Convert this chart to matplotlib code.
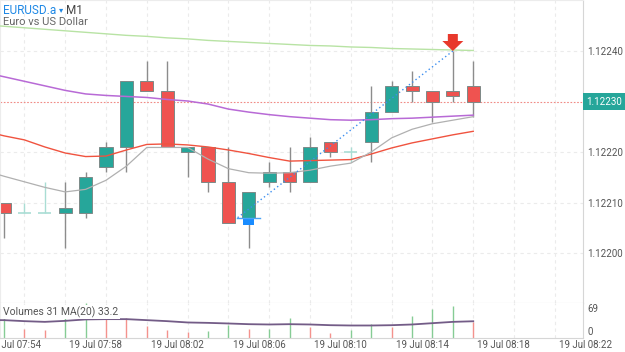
#!/usr/bin/env python3

import matplotlib
matplotlib.use("Agg")
import matplotlib.pyplot as plt
import matplotlib.transforms as mtransforms
from matplotlib.patches import Polygon, Rectangle

# one-minute candles, index 0 = 19 Jul 07:54
OPENS  = [1.12210, 1.12208, 1.12208, 1.12208, 1.12208, 1.12217, 1.12221, 1.12234,
          1.12232, 1.12220, 1.12221, 1.12214, 1.12207, 1.12214, 1.12216, 1.12214,
          1.12222, 1.12220, 1.12222, 1.12228, 1.12233, 1.12232, 1.12232, 1.12233]
HIGHS  = [1.12210, 1.12210, 1.12214, 1.12214, 1.12216, 1.12222, 1.12234, 1.12238,
          1.12238, 1.12221, 1.12221, 1.12221, 1.12212, 1.12218, 1.12221, 1.12223,
          1.12222, 1.12221, 1.12233, 1.12234, 1.12236, 1.12232, 1.12240, 1.12238]
LOWS   = [1.12203, 1.12208, 1.12208, 1.12201, 1.12207, 1.12216, 1.12216, 1.12232,
          1.12221, 1.12215, 1.12212, 1.12206, 1.12201, 1.12213, 1.12212, 1.12214,
          1.12219, 1.12218, 1.12218, 1.12228, 1.12230, 1.12226, 1.12230, 1.12227]
CLOSES = [1.12208, 1.12208, 1.12208, 1.12209, 1.12215, 1.12221, 1.12234, 1.12232,
          1.12221, 1.12221, 1.12214, 1.12206, 1.12212, 1.12216, 1.12214, 1.12221,
          1.12220, 1.12220, 1.12228, 1.12233, 1.12232, 1.12230, 1.12231, 1.12230]

VOLUMES     = [53, 17, 15, 49, 69, 58, 39, 23, 15, 11, 13, 25,
               17, 18, 39, 21, 9, 15, 27, 22, 44, 57, 63, 31]
PREV_VOLUME = 40

# moving averages start one bar before the visible window (index -1)
MA_SLOW   = [1.122452, 1.122449, 1.122446, 1.122443, 1.122440, 1.122437, 1.122434,
             1.122431, 1.122429, 1.122426, 1.122424, 1.122421, 1.122419, 1.122417,
             1.122415, 1.122413, 1.122411, 1.122410, 1.122408, 1.122407, 1.122405,
             1.122404, 1.122403, 1.122402, 1.122401]
MA_MID    = [1.122358, 1.122349, 1.122340, 1.122331, 1.122322, 1.122315, 1.122312,
             1.122310, 1.122308, 1.122304, 1.122301, 1.122295, 1.122285, 1.122279,
             1.122274, 1.122270, 1.122267, 1.122264, 1.122263, 1.122264, 1.122266,
             1.122267, 1.122269, 1.122271, 1.122273]
MA_FAST   = [1.122242, 1.122232, 1.122224, 1.122210, 1.122198, 1.122191, 1.122192,
             1.122204, 1.122215, 1.122216, 1.122214, 1.122210, 1.122204, 1.122197,
             1.122189, 1.122182, 1.122183, 1.122184, 1.122185, 1.122196, 1.122208,
             1.122218, 1.122226, 1.122234, 1.122241]
MA_SHORT  = [1.122164, 1.122152, 1.122141, 1.122130, 1.122121, 1.122126, 1.122144,
             1.122172, 1.122209, 1.122209, 1.122209, 1.122186, 1.122167, 1.122159,
             1.122158, 1.122159, 1.122164, 1.122172, 1.122178, 1.122200, 1.122228,
             1.122245, 1.122256, 1.122263, 1.122270]
VOLUME_MA = [35.6, 35.4, 33.4, 32.0, 34.0, 36.8, 37.4, 37.4, 35.4, 33.4, 30.8, 30.0,
             28.8, 27.4, 26.8, 27.4, 26.8, 25.4, 24.8, 24.8, 25.4, 26.8, 29.4, 32.0, 33.2]

# trade: buy on bar 12, closed on bar 22
BUY_BAR,  BUY_PRICE  = 12, 1.12207
SELL_BAR, SELL_PRICE = 22, 1.12240

LAST_PRICE   = 1.12230
PRICE_TICKS  = [1.12200, 1.12210, 1.12220, 1.12240]
TIME_LABELS  = ["19 Jul 07:54", "19 Jul 07:58", "19 Jul 08:02", "19 Jul 08:06",
                "19 Jul 08:10", "19 Jul 08:14", "19 Jul 08:18", "19 Jul 08:22"]

TEAL  = "#26a69a"
RED   = "#ef5350"
DOJI  = "#a9ddd4"
WICK  = "#8c8c8c"
GRID  = "#ebebeb"
SPINE = "#d6d6d6"
TEXT  = "#555555"
FONT  = ["Roboto", "DejaVu Sans"]

OUTPUT_FILE = "out.png"


def px_transform(ax, x, y):
    """Pixel offsets (y up) around a data point."""
    return (mtransforms.Affine2D().scale(0.01) + ax.figure.dpi_scale_trans
            + mtransforms.ScaledTranslation(x, y, ax.transData))


def draw_candles(ax):
    width = 0.64
    for i, (o, h, l, c) in enumerate(zip(OPENS, HIGHS, LOWS, CLOSES)):
        if o == c:
            ax.vlines(i, l, h, color=DOJI, lw=1.0, zorder=2)
            ax.hlines(o, i - width / 2, i + width / 2, color=DOJI, lw=1.2, zorder=2)
            continue
        ax.vlines(i, l, h, color=WICK, lw=1.0, zorder=1.8)
        ax.add_patch(Rectangle((i - width / 2, min(o, c)), width, abs(c - o),
                               facecolor=TEAL if c > o else RED,
                               edgecolor="#7d8a88", lw=0.7, zorder=2))


def draw_trade(ax):
    ax.plot([BUY_BAR - 0.55, SELL_BAR], [BUY_PRICE, SELL_PRICE],
            color="#3d8ff0", lw=1.0, ls=(0, (1, 2)), zorder=4)

    # sell arrow, tip on the close price
    sell = [(0, 0), (-10.5, 10), (-5, 10), (-5, 17), (5, 17), (5, 10), (10.5, 10)]
    ax.add_patch(Polygon(sell, closed=True, facecolor="#e8392c", edgecolor="none",
                         transform=px_transform(ax, SELL_BAR, SELL_PRICE), zorder=5))

    # buy arrow, mostly hidden behind the candle body
    trans = px_transform(ax, BUY_BAR, BUY_PRICE)
    ax.add_patch(Rectangle((-5.5, -7.5), 11, 7, facecolor="#1a8cff",
                           edgecolor="none", transform=trans, zorder=5))
    ax.plot([-11.5, 11.5], [0, 0], color="#4aa3f7", lw=1.0, transform=trans, zorder=5)


def style_axes(ax):
    ax.set_axisbelow(True)
    for side in ("left", "top"):
        ax.spines[side].set_color("#ececec")
    for side in ("right", "bottom"):
        ax.spines[side].set_color(SPINE)
    ax.tick_params(axis="x", length=0, labelbottom=False)
    ax.set_xticks([i for i in range(1, 29, 2)])
    ax.grid(axis="x", color=GRID, lw=0.8, ls=(0, (3, 3)))


def main():
    fig = plt.figure(figsize=(6.25, 3.52), dpi=100)
    ax = fig.add_axes([0, 49 / 352, 583 / 625, 303 / 352])
    axv = fig.add_axes([0, 14 / 352, 583 / 625, 35 / 352])

    bars = range(len(OPENS))
    ma_x = range(-1, len(OPENS))
    xlim = (-0.196, 28.38)

    # price pane
    style_axes(ax)
    ax.set_xlim(*xlim)
    ax.set_ylim(1.121901, 1.122501)
    ax.yaxis.tick_right()
    ax.set_yticks(PRICE_TICKS)
    ax.set_yticklabels([f"{p:.5f}" for p in PRICE_TICKS])
    ax.tick_params(axis="y", length=0, pad=3, labelsize=7, labelcolor=TEXT)
    for lab in ax.get_yticklabels():
        lab.set_family(FONT)
    ax.grid(axis="y", color=GRID, lw=0.8, ls=(0, (3, 3)))

    draw_candles(ax)
    ax.plot(ma_x, MA_SLOW, color="#b8e3a4", lw=1.0, zorder=3)
    ax.plot(ma_x, MA_MID, color="#b86ad6", lw=1.1, zorder=3)
    ax.plot(ma_x, MA_FAST, color="#f0533f", lw=1.0, zorder=3)
    ax.plot(ma_x, MA_SHORT, color="#b0b0b0", lw=0.9, zorder=3)
    draw_trade(ax)

    ax.axhline(LAST_PRICE, color="#f08a85", lw=0.8, ls=(0, (1.5, 1.5)), zorder=1)
    ax.annotate(f"{LAST_PRICE:.5f}", xy=(1, LAST_PRICE),
                xycoords=("axes fraction", "data"), xytext=(2.5, 0),
                textcoords="offset points", ha="left", va="center",
                fontsize=7, color="white", family=FONT, annotation_clip=False,
                bbox=dict(boxstyle="square,pad=0.35", fc=TEAL, ec="none"))

    fig.text(3 / 625, 1 - 10 / 352, "EURUSD.a", color="#1e88e5", fontsize=8.5,
             family=FONT, va="center")
    fig.text(59 / 625, 1 - 10 / 352, "\u25be", color="#1e88e5", fontsize=6,
             family=FONT, va="center")
    fig.text(66 / 625, 1 - 10 / 352, "M1", color="#444444", fontsize=8.5,
             family=FONT, va="center")
    fig.text(3 / 625, 1 - 22 / 352, "Euro vs US Dollar", color="#666666",
             fontsize=8, family=FONT, va="center")

    # volume pane
    style_axes(axv)
    axv.spines["top"].set_visible(False)
    axv.set_xlim(*xlim)
    axv.set_ylim(0, 69.4)
    axv.set_yticks([])
    prev = [PREV_VOLUME] + VOLUMES[:-1]
    colors = ["#86cc95" if v > p else "#f4928d" for v, p in zip(VOLUMES, prev)]
    axv.vlines(bars, 0, VOLUMES, colors=colors, lw=1.0, zorder=2)
    axv.plot(ma_x, VOLUME_MA, color="#735c87", lw=1.3, zorder=3)
    axv.text(0.006, 0.74, f"Volumes {VOLUMES[-1]} MA(20) {VOLUME_MA[-1]}",
             transform=axv.transAxes, fontsize=7.5, color=TEXT, family=FONT,
             va="center", zorder=4,
             bbox=dict(boxstyle="square,pad=0.1", fc="white", ec="none"))
    axv.text(1.007, 0.83, "69", transform=axv.transAxes, fontsize=7,
             color=TEXT, family=FONT, va="center")
    axv.text(1.007, 0.17, "0", transform=axv.transAxes, fontsize=7,
             color=TEXT, family=FONT, va="center")

    trans = mtransforms.blended_transform_factory(axv.transData, fig.transFigure)
    for k, label in enumerate(TIME_LABELS):
        axv.text(4 * k + 0.5, 7 / 352, label, transform=trans, ha="center",
                 va="center", fontsize=7, color=TEXT, family=FONT, clip_on=False)

    fig.savefig(OUTPUT_FILE, dpi=100, facecolor="white")
    plt.close(fig)


if __name__ == "__main__":
    main()
